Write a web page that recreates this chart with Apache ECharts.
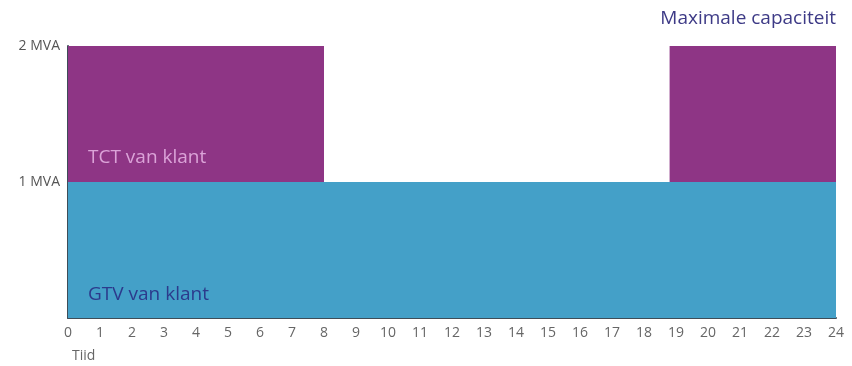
<!DOCTYPE html>
<html>
<head>
<meta charset="utf-8">
<script src="https://cdn.jsdelivr.net/npm/echarts@6/dist/echarts.min.js"></script>
<style>
html,body{margin:0;padding:0;background:#fff;}
#main{width:852px;height:366px;}
</style>
</head>
<body>
<div id="main"></div>
<script>
// uren van de dag
var hours = [0,1,2,3,4,5,6,7,8,9,10,11,12,13,14,15,16,17,18,19,20,21,22,23,24];
// GTV (vast 1 MVA)
var gtvX = [0, 24];
var gtvY = [1, 1];
// TCT blok (tot 2 MVA), stapvormig
var tctX = [0, 8, 8, 18.8, 18.8, 24];
var tctY = [2, 2, 0, 0, 2, 2];
var yTicks = ['', '1 MVA', '2 MVA'];

function pairs(xs, ys){
	var out = [];
	for(var i in xs){
		out.push([xs[i], ys[i]]);
	}
	return out;
}

var myChart = echarts.init(document.getElementById('main'));
var option = {
	animation : false,
	grid : {
		left : 68,
		right : 16,
		top : 46,
		bottom : 48
	},
	xAxis : {
		type : 'value',
		min : 0,
		max : 24,
		interval : 1,
		axisLine : { show : true, lineStyle : { color : '#3e4d58', width : 2 } },
		axisTick : { show : false },
		splitLine : { show : false },
		axisLabel : {
			color : '#666',
			fontFamily : 'Open Sans',
			fontSize : 14,
			margin : 8
		}
	},
	yAxis : {
		type : 'value',
		min : 0,
		max : 2,
		interval : 1,
		axisLine : { show : true, lineStyle : { color : '#3e4d58', width : 2 } },
		axisTick : { show : false },
		splitLine : { show : false },
		axisLabel : {
			color : '#555',
			fontFamily : 'Open Sans',
			fontSize : 14,
			margin : 8,
			formatter : function(v){ return yTicks[v] || ''; }
		}
	},
	series : [{
		name : 'TCT van klant',
		type : 'line',
		data : pairs(tctX, tctY),
		symbol : 'none',
		lineStyle : { width : 0 },
		areaStyle : { color : '#8e3585', opacity : 1 },
		z : 1
	}, {
		name : 'GTV van klant',
		type : 'line',
		data : pairs(gtvX, gtvY),
		symbol : 'none',
		lineStyle : { width : 0 },
		areaStyle : { color : '#44a0c8', opacity : 1 },
		z : 2
	}],
	graphic : [{
		type : 'text',
		left : 88, top : 148,
		style : { text : 'TCT van klant', fill : '#dba3d8', font : '19px "Open Sans"' },
		z : 10
	}, {
		type : 'text',
		left : 88, top : 285,
		style : { text : 'GTV van klant', fill : '#2c3a8c', font : '19px "Open Sans"' },
		z : 10
	}, {
		type : 'text',
		right : 16, top : 9,
		style : { text : 'Maximale capaciteit', fill : '#3d3a86', font : '19px "Open Sans"' },
		z : 10
	}, {
		type : 'text',
		left : 72, top : 349,
		style : { text : 'Tiid', fill : '#666', font : '14px "Open Sans"' },
		z : 10
	}]
};
myChart.setOption(option);
</script>
</body>
</html>
